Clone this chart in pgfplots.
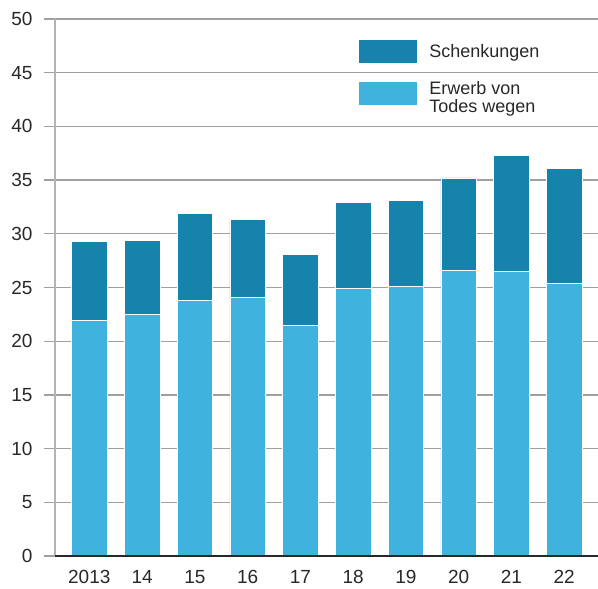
\documentclass[border=0pt]{standalone}
\usepackage{fontspec}
\setmainfont{Liberation Sans}
\usepackage{pgfplots}
\usepackage{pgfplotstable}
\pgfplotsset{compat=1.18}

\definecolor{dunkel}{RGB}{22,131,172}
\definecolor{hell}{RGB}{63,178,221}
\definecolor{gitter}{RGB}{160,160,160}
\definecolor{schrift}{RGB}{40,40,40}

% Erwerb von Todes wegen (unten), Schenkungen (oben)
\pgfplotstableread{
idx jahr erwerb schenk
0 2013 21.9 7.4
1 2014 22.5 6.9
2 2015 23.8 8.1
3 2016 24.1 7.25
4 2017 21.5 6.6
5 2018 24.9 8.0
6 2019 25.1 8.0
7 2020 26.6 8.6
8 2021 26.5 10.8
9 2022 25.4 10.7
}\daten

\begin{document}
\begin{tikzpicture}
\begin{axis}[
    name=ax,
    scale only axis,
    width=543pt, height=537pt,
    ybar stacked, bar width=35.5pt,
    xmin=-0.65, xmax=9.64,
    ymin=0, ymax=50,
    ytick={0,5,...,50},
    xtick=data,
    xticklabels={2013,14,15,16,17,18,19,20,21,22},
    axis lines=left,
    axis line style={-},
    x axis line style={draw=none},
    y axis line style={gitter!80, line width=1.3pt},
    ymajorgrids,
    grid style={gitter, line width=1.2pt},
    tick align=outside,
    major tick length=11pt,
    ytick style={gitter, line width=1.2pt},
    xtick style={draw=none},
    tick label style={font=\fontsize{19}{21}\selectfont, text=schrift},
    yticklabel style={xshift=-8pt},
    /pgf/number format/assume math mode=true,
    legend style={at={(rel axis cs:0.5575,0.9628)}, anchor=north west,
        draw=none, fill=none, inner sep=0pt, outer sep=0pt,
        row sep=17.5pt, column sep=12pt,
        font=\fontsize{18}{18.3}\selectfont, text=schrift,
        nodes={inner sep=0pt}},
    legend cell align=left,
    reverse legend,
    legend image code/.code={\fill[#1] (0pt,-12pt) rectangle (59pt,12pt);},
]
\addplot[fill=hell, draw=white, line width=0.6pt] table[x=idx, y=erwerb]{\daten};
\addlegendentry{\begin{tabular}[c]{@{}l@{}}Erwerb von\\Todes wegen\end{tabular}}
\addplot[fill=dunkel, draw=white, line width=0.6pt] table[x=idx, y=schenk]{\daten};
\addlegendentry{Schenkungen}
\end{axis}
% Grundlinie ueber den Balken
\draw[schrift, line width=1.5pt] (ax.south west) -- (ax.south east);
\pgfresetboundingbox
\path ([xshift=-55pt,yshift=-32pt]ax.south west) rectangle ([yshift=19pt]ax.north east);
\end{tikzpicture}
\end{document}
